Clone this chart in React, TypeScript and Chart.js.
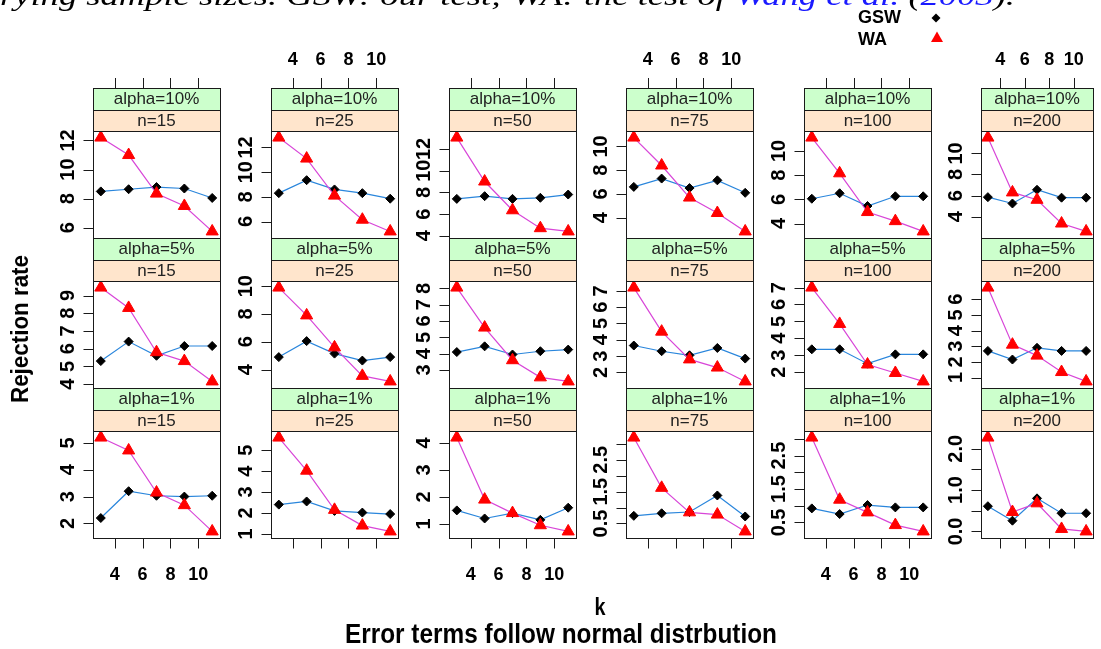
import React, { useEffect, useRef } from "react";
import { Chart, registerables } from "chart.js";
Chart.register(...registerables);

// ---------------- data ----------------
const kValues = [3, 5, 7, 9, 11];
const xTickValues = [4, 6, 8, 10];
const xTickLabels = ["4", "6", "8", "10"];
const sampleSizes = ["n=15", "n=25", "n=50", "n=75", "n=100", "n=200"];
const alphaLevels = ["alpha=10%", "alpha=5%", "alpha=1%"];
const seriesNames = ["GSW", "WA"];

// alpha = 10%, one list per sample size (n=15 ... n=200)
const gsw10 = [
  [8.5, 8.65, 8.8, 8.7, 8.05],
  [8.3, 9.35, 8.6, 8.3, 7.85],
  [7.4, 7.65, 7.4, 7.5, 7.8],
  [6.6, 7.3, 6.5, 7.15, 6.1],
  [6.05, 6.5, 5.45, 6.25, 6.25],
  [5.85, 5.25, 6.55, 5.8, 5.8],
];
const wa10 = [
  [12.2, 11.0, 8.35, 7.5, 5.75],
  [12.8, 11.1, 8.1, 6.15, 5.2],
  [13.05, 9.0, 6.35, 4.7, 4.4],
  [10.75, 8.4, 5.7, 4.4, 2.85],
  [11.1, 8.15, 4.95, 4.2, 3.35],
  [11.5, 6.3, 5.6, 3.35, 2.6],
];
// alpha = 5%
const gsw5 = [
  [5.3, 6.4, 5.6, 6.15, 6.15],
  [4.9, 6.05, 5.15, 4.65, 4.9],
  [4.1, 4.45, 3.95, 4.15, 4.25],
  [3.65, 3.3, 3.05, 3.5, 2.85],
  [3.35, 3.35, 2.5, 3.05, 3.05],
  [2.7, 2.15, 2.9, 2.7, 2.7],
];
const wa5 = [
  [9.45, 8.3, 5.8, 5.3, 4.15],
  [9.9, 7.9, 5.6, 3.55, 3.15],
  [8.05, 5.6, 3.6, 2.55, 2.3],
  [7.2, 4.5, 2.8, 2.3, 1.45],
  [7.0, 4.85, 2.45, 1.95, 1.45],
  [6.75, 3.1, 2.4, 1.35, 0.75],
];
// alpha = 1%
const gsw1 = [
  [2.2, 3.2, 3.03, 3.0, 3.03],
  [2.4, 2.55, 2.1, 2.02, 1.95],
  [1.5, 1.2, 1.4, 1.15, 1.6],
  [0.74, 0.82, 0.86, 1.38, 0.72],
  [0.92, 0.75, 1.02, 0.95, 0.95],
  [0.61, 0.26, 0.8, 0.44, 0.44],
];
const wa1 = [
  [5.2, 4.72, 3.15, 2.68, 1.7],
  [5.6, 4.02, 2.15, 1.4, 1.12],
  [4.2, 1.9, 1.4, 0.95, 0.72],
  [3.2, 1.62, 0.85, 0.78, 0.25],
  [3.04, 1.18, 0.8, 0.42, 0.23],
  [2.27, 0.47, 0.68, 0.06, 0.0],
];

// y tick values and labels for each panel
const yTicks10 = [
  [6, 8, 10, 12],
  [6, 8, 10, 12],
  [4, 6, 8, 10, 12],
  [4, 6, 8, 10],
  [4, 6, 8, 10],
  [4, 6, 8, 10],
];
const yLabels10 = [
  ["6", "8", "10", "12"],
  ["6", "8", "10", "12"],
  ["4", "6", "8", "10", "12"],
  ["4", "6", "8", "10"],
  ["4", "6", "8", "10"],
  ["4", "6", "8", "10"],
];
const yTicks5 = [
  [4, 5, 6, 7, 8, 9],
  [4, 6, 8, 10],
  [3, 4, 5, 6, 7, 8],
  [2, 3, 4, 5, 6, 7],
  [2, 3, 4, 5, 6, 7],
  [1, 2, 3, 4, 5, 6],
];
const yLabels5 = [
  ["4", "5", "6", "7", "8", "9"],
  ["4", "6", "8", "10"],
  ["3", "4", "5", "6", "7", "8"],
  ["2", "3", "4", "5", "6", "7"],
  ["2", "3", "4", "5", "6", "7"],
  ["1", "2", "3", "4", "5", "6"],
];
const yTicks1 = [
  [2, 3, 4, 5],
  [1, 2, 3, 4, 5],
  [1, 2, 3, 4],
  [0.5, 1, 1.5, 2, 2.5, 3],
  [0.5, 1, 1.5, 2, 2.5, 3],
  [0, 0.5, 1, 1.5, 2],
];
const yLabels1 = [
  ["2", "3", "4", "5"],
  ["1", "2", "3", "4", "5"],
  ["1", "2", "3", "4"],
  ["0.5", "", "1.5", "", "2.5", ""],
  ["0.5", "", "1.5", "", "2.5", ""],
  ["0.0", "", "1.0", "", "2.0"],
];

const gswByRow = [gsw10, gsw5, gsw1];
const waByRow = [wa10, wa5, wa1];
const yTicksByRow = [yTicks10, yTicks5, yTicks1];
const yLabelsByRow = [yLabels10, yLabels5, yLabels1];

// ---------------- layout & style ----------------
const W = 1101;
const H = 649;
const colLeft = [93, 271, 449, 626, 804, 981];
const panelW = 127;
const rowTop = [88, 238, 388];
const stripH = 21.5;
const rowH = 150;
const X_MIN = 2.44;
const X_MAX = 11.56;
const PAD = 0.07;

const GSW_LINE = "#2a86dc";
const WA_LINE = "#d846d8";
const WA_FILL = "#ff0000";
const STRIP_TOP = "#ccffcc";
const STRIP_BOTTOM = "#ffe5cc";
const BORDER = "#1a1a1a";
const SANS = '"Liberation Sans", Arial, sans-serif';

function yRange(a: number[], b: number[]) {
  const all = [...a, ...b];
  const lo = Math.min(...all);
  const hi = Math.max(...all);
  const p = (hi - lo) * PAD;
  return [lo - p, hi + p];
}

function crisp(v: number) {
  return Math.round(v) + 0.5;
}

// draw text compressed horizontally to a target width
function fitText(ctx: CanvasRenderingContext2D, text: string, cx: number, cy: number, width: number) {
  const w = ctx.measureText(text).width;
  ctx.save();
  ctx.translate(cx, cy);
  ctx.scale(width / w, 1);
  ctx.textAlign = "center";
  ctx.fillText(text, 0, 0);
  ctx.restore();
}

function makePanelPlugin(r: number, c: number) {
  return {
    id: "latticePanel" + r + "_" + c,
    afterDraw(chart: any) {
      const ctx = chart.ctx as CanvasRenderingContext2D;
      const { left, right, top, bottom } = chart.chartArea;
      const xs = chart.scales.x;
      const ys = chart.scales.y;
      ctx.save();
      // strips
      const st = rowTop[r];
      const L = crisp(left);
      const Rt = crisp(right);
      ctx.lineWidth = 1;
      ctx.strokeStyle = BORDER;
      ctx.fillStyle = STRIP_TOP;
      ctx.fillRect(L, crisp(st), Rt - L, Math.round(stripH));
      ctx.strokeRect(L, crisp(st), Rt - L, Math.round(stripH));
      ctx.fillStyle = STRIP_BOTTOM;
      const sb = crisp(st + stripH);
      ctx.fillRect(L, sb, Rt - L, crisp(top) - sb);
      ctx.strokeRect(L, sb, Rt - L, crisp(top) - sb);
      ctx.fillStyle = "#222";
      ctx.font = "17px " + SANS;
      ctx.textAlign = "center";
      ctx.textBaseline = "middle";
      const cx = (left + right) / 2;
      ctx.fillText(alphaLevels[r], cx, st + stripH / 2 + 1);
      ctx.fillText(sampleSizes[c], cx, (st + stripH + top) / 2 + 1);

      // panel border
      ctx.strokeStyle = BORDER;
      ctx.strokeRect(L, crisp(top), Rt - L, crisp(bottom) - crisp(top));

      // y axis ticks and rotated labels
      const ticks = yTicksByRow[r][c];
      const labels = yLabelsByRow[r][c];
      ctx.fillStyle = "#000";
      ctx.font = "bold 20px " + SANS;
      ticks.forEach((v: number, i: number) => {
        const y = ys.getPixelForValue(v);
        ctx.beginPath();
        ctx.moveTo(L - 10, crisp(y));
        ctx.lineTo(L, crisp(y));
        ctx.stroke();
        if (labels[i]) {
          ctx.save();
          ctx.translate(left - 19, y);
          ctx.rotate(-Math.PI / 2);
          ctx.textAlign = "center";
          ctx.textBaseline = "alphabetic";
          ctx.fillText(labels[i], 0, 0);
          ctx.restore();
        }
      });

      // x axis ticks
      ctx.font = "bold 18px " + SANS;
      ctx.textAlign = "center";
      ctx.textBaseline = "middle";
      xTickValues.forEach((v, i) => {
        const x = crisp(xs.getPixelForValue(v));
        if (r === 0) {
          ctx.beginPath();
          ctx.moveTo(x, rowTop[0] - 10);
          ctx.lineTo(x, rowTop[0]);
          ctx.stroke();
          if (c % 2 === 1) ctx.fillText(xTickLabels[i], xs.getPixelForValue(v), 60);
        }
        if (r === 2) {
          ctx.beginPath();
          ctx.moveTo(x, crisp(bottom));
          ctx.lineTo(x, crisp(bottom) + 10);
          ctx.stroke();
          if (c % 2 === 0) ctx.fillText(xTickLabels[i], xs.getPixelForValue(v), 575);
        }
      });
      ctx.restore();
    },
  };
}

const overlayPlugin = {
  id: "latticeOverlay",
  afterDraw(chart: any) {
    const ctx = chart.ctx as CanvasRenderingContext2D;
    ctx.save();
    ctx.fillStyle = "#000";
    // top caption (cut off)
    ctx.font = 'italic 28px "Liberation Serif", "DejaVu Serif", serif';
    ctx.textBaseline = "alphabetic";
    ctx.textAlign = "left";
    const segs: [string, string][] = [
      ["varying sample sizes. GSW: our test; WA: the test of ", "#000"],
      ["Wang et al.", "#1a1aff"],
      [" (", "#000"],
      ["2003", "#1a1aff"],
      [").", "#000"],
    ];
    const total = segs.reduce((s, [t]) => s + ctx.measureText(t).width, 0);
    const pre = ctx.measureText("va").width;
    const sx = 1015 / (total - pre);
    ctx.save();
    ctx.translate(-pre * sx, 5);
    ctx.scale(sx, 1);
    let xx = 0;
    segs.forEach(([t, col]) => {
      ctx.fillStyle = col;
      ctx.fillText(t, xx, 0);
      xx += ctx.measureText(t).width;
    });
    ctx.restore();

    // legend
    ctx.fillStyle = "#000";
    ctx.font = "bold 18px " + SANS;
    ctx.textBaseline = "middle";
    ctx.textAlign = "left";
    ctx.fillText(seriesNames[0], 858, 18);
    ctx.fillText(seriesNames[1], 858, 40);
    ctx.beginPath();
    ctx.moveTo(936, 13.5);
    ctx.lineTo(940.5, 18);
    ctx.lineTo(936, 22.5);
    ctx.lineTo(931.5, 18);
    ctx.closePath();
    ctx.fill();
    ctx.fillStyle = WA_FILL;
    ctx.beginPath();
    ctx.moveTo(937, 31.5);
    ctx.lineTo(943, 42);
    ctx.lineTo(931, 42);
    ctx.closePath();
    ctx.fill();

    // axis titles (heavy, slightly condensed)
    ctx.fillStyle = "#000";
    ctx.font = "bold 24px " + SANS;
    fitText(ctx, "k", 600, 608, 11);
    ctx.font = "bold 27px " + SANS;
    fitText(ctx, "Error terms follow normal distrbution", 561, 636, 432);
    ctx.save();
    ctx.translate(22, 329);
    ctx.rotate(-Math.PI / 2);
    ctx.font = "bold 23px " + SANS;
    fitText(ctx, "Rejection rate", 0, 0, 148);
    ctx.restore();
    ctx.restore();
  },
};

function buildConfig(r: number, c: number): any {
  const gsw = gswByRow[r][c];
  const wa = waByRow[r][c];
  const [ymin, ymax] = yRange(gsw, wa);
  const plotTop = rowTop[r] + 2 * stripH;
  const plotBottom = rowTop[r] + rowH;
  const plugins: any[] = [makePanelPlugin(r, c)];
  if (r === 0 && c === 0) plugins.push(overlayPlugin);
  return {
    type: "line",
    data: {
      datasets: [
        {
          label: seriesNames[0],
          data: kValues.map((k, i) => ({ x: k, y: gsw[i] })),
          borderColor: GSW_LINE,
          borderWidth: 1.2,
          pointStyle: "rectRot",
          pointRadius: 4.5,
          pointBackgroundColor: "#000",
          pointBorderColor: "#000",
          pointBorderWidth: 1,
          tension: 0,
          order: 2,
          clip: false,
        },
        {
          label: seriesNames[1],
          data: kValues.map((k, i) => ({ x: k, y: wa[i] })),
          borderColor: WA_LINE,
          borderWidth: 1.2,
          pointStyle: "triangle",
          pointRadius: 7,
          pointBackgroundColor: WA_FILL,
          pointBorderColor: WA_FILL,
          pointBorderWidth: 1,
          tension: 0,
          order: 1,
          clip: false,
        },
      ],
    },
    options: {
      responsive: false,
      animation: false,
      devicePixelRatio: 1,
      events: [],
      layout: {
        padding: {
          left: colLeft[c],
          right: W - (colLeft[c] + panelW),
          top: plotTop,
          bottom: H - plotBottom,
        },
      },
      plugins: {
        legend: { display: false },
        tooltip: { enabled: false },
        title: { display: false },
      },
      scales: {
        x: { type: "linear", display: false, min: X_MIN, max: X_MAX },
        y: { type: "linear", display: false, min: ymin, max: ymax },
      },
    },
    plugins,
  };
}

function Panel({ r, c }: { r: number; c: number }) {
  const ref = useRef<HTMLCanvasElement>(null);
  useEffect(() => {
    if (!ref.current) return;
    const chart = new Chart(ref.current, buildConfig(r, c));
    return () => chart.destroy();
  }, [r, c]);
  return (
    <canvas
      ref={ref}
      width={W}
      height={H}
      style={{ position: "absolute", left: 0, top: 0, width: W, height: H }}
    />
  );
}

export default function App() {
  const cells: JSX.Element[] = [];
  for (let r = 0; r < 3; r++) {
    for (let c = 0; c < 6; c++) {
      cells.push(<Panel key={r + "-" + c} r={r} c={c} />);
    }
  }
  return (
    <div
      style={{
        position: "fixed",
        left: 0,
        top: 0,
        width: W,
        height: H,
        overflow: "hidden",
        background: "#fff",
      }}
    >
      {cells}
    </div>
  );
}
